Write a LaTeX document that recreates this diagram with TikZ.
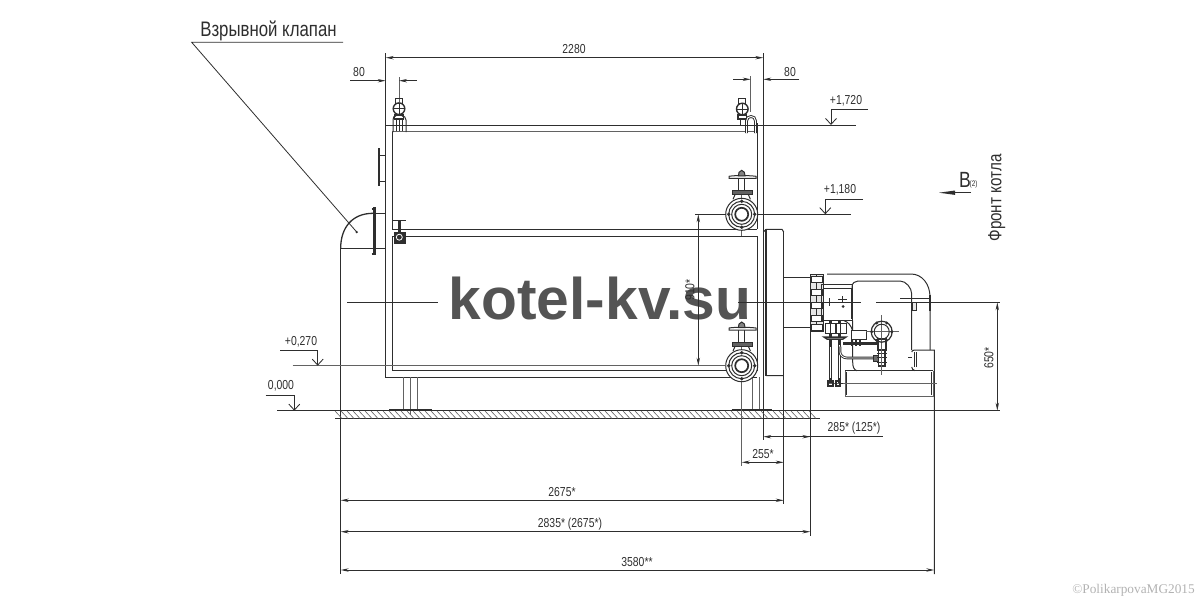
\documentclass[tikz,border=0pt]{standalone}
\usepackage{fontspec}
\setmainfont[FakeStretch=0.8]{Liberation Sans}
\newfontfamily\markfont{Liberation Sans}
\newfontfamily\copyfont{Liberation Serif}
\usetikzlibrary{arrows.meta, positioning}
\definecolor{inkline}{HTML}{2E2E2E}
\tikzset{
    wall/.style={draw=inkline, line width=1pt},
    thinwall/.style={draw=inkline!75, line width=0.8pt},
    heavy/.style={draw=inkline, line width=3pt},
    dimline/.style={draw=inkline, line width=0.85pt, -{Stealth[length=8pt,width=3.4pt]}},
    dimboth/.style={draw=inkline, line width=0.85pt, {Stealth[length=8pt,width=3.4pt]}-{Stealth[length=8pt,width=3.4pt]}},
    levelmark/.style={draw=inkline, line width=0.85pt, -{Straight Barb[length=6pt,width=11pt]}},
    dimtext/.style={text=inkline, font=\fontsize{13}{14}\selectfont, inner sep=0pt}
}
\begin{document}
\begin{tikzpicture}[x=1pt, y=-1pt]

    \useasboundingbox (0,0) rectangle (1200,600); % same size as the sheet, in pixels

    % watermark lies under the drawing
    \node [text=inkline!82, font=\markfont\bfseries\fontsize{58.7}{60}\selectfont, inner sep=0pt] (siteName) at (600,298.5) {kotel-kv.su};

    % boiler shell and the two chambers
    \draw [wall] (385.7,53) -- (385.7,377) -- (757.3,377);
    \draw [wall] (763.3,53) -- (763.3,440);
    \draw [thinwall] (392.3,131.7) -- (757.3,131.7);
    \draw [wall] (392.3,131.7) -- (392.3,229.3) -- (757.3,229.3);
    \draw [wall] (392.3,236) -- (392.3,370.7) -- (757.3,370.7) -- (757.3,236) -- cycle;

    % explosion valve on the rear wall
    \draw [wall, line width=1.3pt] (340.7,248) .. controls (340.7,228) and (352,213.3) .. (373,213.3);
    \draw [wall] (373,213.3) -- (385.7,213.3);
    \draw [wall] (340.7,248) -- (385.7,248);
    \draw [wall] (340.7,248) -- (340.7,574);
    \draw [heavy] (374.3,207) -- (374.3,255);
    \draw [heavy, line width=2pt] (371.5,208.5) -- (376,208.5) (371.5,253.5) -- (376,253.5);
    % bracket above it
    \draw [heavy, line width=2pt] (379,148) -- (379,186);
    \draw [wall] (379,155) -- (385.7,155) (379,181.7) -- (385.7,181.7);

    % legs and floor
    \foreach \legx in {403,410.3,417.7} \draw [thinwall] (\legx,377) -- (\legx,410);
    \draw [thinwall] (410.3,410) -- (410.3,415);
    \foreach \legx in {752,759} \draw [thinwall] (\legx,377) -- (\legx,410);
    \draw [wall, line width=1.3pt] (389,409.7) -- (431.7,409.7);
    \draw [wall, line width=1.3pt] (731.7,409.7) -- (772.3,409.7);
    \draw [wall] (277,410.7) -- (1000,410.7);
    \draw [wall] (335,418.5) -- (820,418.5);
    \foreach \hx in {335,341,...,813} \draw [thinwall, line width=0.6pt] (\hx,411) -- (\hx+7,418.5);

    % top valves and the small gate valve
    \draw [thinwall] (399,77) -- (399,102);
    \draw [wall, line width=1.4pt] (399,108.7) circle (5.8);
    \draw [wall] (393,108.7) -- (405,108.7) (399,102.7) -- (399,114.7);
    \draw [wall] (395.5,98.5) rectangle (402.5,103);
    \draw [wall, line width=1.2pt] (394.5,115) rectangle (403.5,119);
    \draw [wall] (393,132) -- (393,120) .. controls (393,117) and (394,116) .. (396,116);
    \draw [wall] (402,116) .. controls (404,116) and (406,117) .. (406,120) -- (406,132);
    \draw [wall] (396,119) -- (396,131) (399,119) -- (399,131) (402.5,119) -- (402.5,131);
    \draw [thinwall] (750.7,76) -- (750.7,112);
    \draw [wall, line width=1.4pt] (742.3,109) circle (5.8);
    \draw [wall] (736.3,109) -- (748.3,109) (742.3,103) -- (742.3,115);
    \draw [wall] (738.8,98.5) rectangle (745.8,103);
    \draw [wall, line width=1.2pt] (738,115) rectangle (746.6,119);
    \draw [wall] (740,119) -- (740,125) (745,119) -- (745,125);
    \draw [wall, line width=2.8pt] (746.5,133) -- (746.5,121) .. controls (746.5,115) and (755.5,115) .. (755.5,121) -- (755.5,133);
    \draw [white, line width=0.9pt] (746.5,133) -- (746.5,121) .. controls (746.5,115) and (755.5,115) .. (755.5,121) -- (755.5,133);
    \draw [wall] (757.3,123) -- (757.3,229.3);

    \draw [wall, line width=1.2pt] (392.7,220.7) -- (406,220.7);
    \draw [heavy] (399.3,220) -- (399.3,232);
    \draw [fill=inkline, draw=inkline] (393.7,231.7) rectangle (404.7,243.3);
    \draw [white, line width=0.8pt] (399.3,237.2) circle (3);

    % flanged branch valves
    \foreach \vy/\wy in {214.3/177.3, 365.7/329} {
        \draw [thinwall] (741.7,\wy-7) -- (741.7,\vy+22);
        \draw [wall, fill=white] (741.7,\vy) circle (16);
        \draw [wall] (741.7,\vy) circle (13);
        \draw [wall] (741.7,\vy) circle (10);
        \draw [wall, line width=1.7pt, fill=white] (741.7,\vy) circle (6.5);
        \foreach \dx/\dy in {13/0, -13/0, 0/13, 0/-13} \fill [inkline] (741.7+\dx,\vy+\dy) circle (1.9);
        \draw [wall, fill=inkline!75] (732,\wy+13.6) rectangle (752,\wy+17.4);
        \draw [wall, fill=white] (738.7,\wy) rectangle (744.9,\wy+13.6);
        \draw [wall, fill=white] (729,\wy-1) .. controls (735,\wy-2) and (748,\wy-2) .. (756,\wy-1) -- (756,\wy+1) -- (729,\wy+1) -- cycle;
        \draw [wall, fill=inkline!60] (738.4,\wy-1.5) -- (739,\wy-5) -- (741.7,\wy-7) -- (744.4,\wy-5) -- (745,\wy-1.5) -- cycle;
        \draw [wall] (735,\wy+17.4) -- (733,\wy+22) (748.4,\wy+17.4) -- (750.4,\wy+22);
    }
    \draw [thinwall] (741.7,387) -- (741.7,465.7);

    % front plate and burner neck
    \draw [wall, line width=1.3pt] (766,229.3) -- (766,375.7) (783.7,232) -- (783.7,504);
    \draw [wall] (766,375.7) -- (783.7,375.7) (766,229.3) -- (782,229.3) -- (783.7,232);
    \draw [wall] (763.3,232) -- (766,229.3);
    \draw [wall] (783.7,277) -- (810.3,277) (783.7,327) -- (810.3,327);
    \draw [wall] (810.3,277) -- (810.3,536);

    % burner flange and control box
    \draw [wall, fill=inkline!12] (810.3,274.5) rectangle (823,331.5);
    \draw [wall] (816,274.5) -- (816,331.5);
    \foreach \by in {279,292,305,318,327} \draw [wall, fill=white] (811,\by-3) rectangle (822,\by+3);
    \draw [wall] (821,284) rectangle (852.7,320.7);
    \draw [wall] (823,288) -- (851,288) -- (851,319);
    \draw [wall] (827,274) -- (911,274) .. controls (922,274) and (930,284) .. (930,297) -- (930,350);
    \draw [wall] (852,294) -- (852,287) .. controls (852,283) and (855,281) .. (858,281) -- (900,281)
                 .. controls (906,281) and (911.7,288) .. (911.7,294) -- (911.7,350);
    \draw [wall] (852.7,320.7) -- (852.7,362) .. controls (852.7,367) and (854,370) .. (857,370.7);
    \draw [wall] (852.7,331) .. controls (851,325) and (848,322) .. (844,320.7);
    \draw [wall] (900,298.2) -- (930,298.2);
    \draw [wall, fill=inkline!12] (912.3,302) rectangle (916.7,310.7);
    \draw [wall, line width=2pt] (930.2,295) -- (930.2,310.7);

    % air inlet and base frame
    \draw [wall] (911.7,352) .. controls (912,350.5) and (913,350) .. (915,350) -- (934.3,350) -- (934.3,574);
    \draw [wall, line width=1.4pt] (914.3,352) -- (914.3,367);
    \draw [wall] (916.6,352) -- (916.6,367);
    \draw [wall] (908,357) -- (911.7,357);
    \draw [wall] (911.7,367) .. controls (912,369) and (913,370) .. (915,370.7);
    \draw [wall, line width=1.3pt] (845,370.7) -- (933,370.7);
    \draw [thinwall] (845.5,370.7) -- (845.5,396) -- (933,396) -- (933,370.7);
    \draw [wall, line width=1.5pt] (846.5,372) -- (846.5,395) (931.5,372) -- (931.5,395);
    \draw [thinwall] (827,383.3) -- (936.7,383.3);

    % gas train below the box
    \foreach \px in {830.3,839.7} {
        \draw [wall, line width=3pt] (\px,320.7) -- (\px,383);
        \draw [white, line width=0.8pt] (\px,345) -- (\px,378);
    }
    \draw [wall, fill=white] (825.5,323) rectangle (835.5,333);
    \draw [wall, fill=white] (836,323) rectangle (846,333);
    \draw [wall] (830.5,323) -- (830.5,333) (840.5,323) -- (840.5,333);
    \draw [wall, line width=1.5pt, fill=white] (824,337) -- (846,337) -- (843,339) -- (827,339) -- cycle;
    \draw [wall, line width=2.4pt] (830.3,340) -- (830.3,347);
    \draw [wall, line width=2.2pt] (828,381) rectangle (833,386);
    \draw [wall, line width=2.2pt] (836,381) rectangle (840,386);
    \draw [wall, line width=1.6pt] (840,383.5) -- (843,383.5);
    \draw [wall, fill=white] (851.7,330) rectangle (866,339);
    \draw [wall, line width=2.6pt] (843,343.3) -- (883,343.3);
    \draw [wall, line width=1.4pt] (852,340) -- (852,346) (856,340) -- (856,346) (860,340) -- (860,346);
    \draw [wall, line width=2.6pt] (840,346.7) -- (840,352) .. controls (840,355) and (843,358) .. (847,358) -- (873,358);
    \draw [white, line width=0.8pt] (840,346.7) -- (840,352) .. controls (840,355) and (843,358) .. (847,358) -- (873,358);
    \draw [wall, fill=inkline!70] (873,355) rectangle (879,361);
    \draw [wall, line width=1.3pt, fill=white] (878.5,349) rectangle (885,366);
    \draw [wall, line width=1pt] (877,353) -- (886.5,353) (877,357) -- (886.5,357) (877,362) -- (886.5,362);
    \draw [wall, line width=1.4pt, fill=white] (878,339) rectangle (886,350);
    \draw [thinwall] (881.7,315) -- (881.7,375);
    \draw [thinwall] (866,331.7) -- (899,331.7);
    % pressure gauge
    \draw [wall, line width=1.2pt] (881.7,331.7) circle (10.5);
    \draw [wall] (881.7,331.7) circle (7.5);
    \foreach \ga in {0,60,...,300} \fill [inkline] (881.7,331.7) ++(\ga:10) circle (1.6);

    % marks inside the box
    \draw [wall] (824,302.3) -- (835,302.3) (829,298) -- (829,306);
    \draw [wall] (838,299) -- (847,299) (842.5,296) -- (842.5,302);
    \fill [inkline] (843,306.5) circle (1.5);

    % axis of the burner
    \draw [thinwall, draw=inkline] (347,302.5) -- (438,302.5);
    \draw [thinwall, draw=inkline] (738,302.3) -- (861,302.3);
    \draw [thinwall, draw=inkline] (876,302.3) -- (1000,302.3);

    % level marks
    \draw [wall] (385.7,125) -- (855.7,125);
    \draw [thinwall] (292.7,365.7) -- (725.7,365.7);
    \draw [wall] (695,214.3) -- (725.7,214.3) (757.7,214.3) -- (850.7,214.3);
    \draw [levelmark] (868,109.3) -- (831,109.3) -- (831,125);
    \draw [levelmark] (863,199.3) -- (825.3,199.3) -- (825.3,214.3);
    \draw [levelmark] (280,350) -- (317.7,350) -- (317.7,365.7);
    \draw [levelmark] (265.7,395) -- (294.3,395) -- (294.3,410.7);
    \node [dimtext] (level1720) at (846,101) {+1,720};
    \node [dimtext] (level1180) at (840,190) {+1,180};
    \node [dimtext] (level270)  at (301,341.5) {+0,270};
    \node [dimtext] (level0)    at (281,386) {0,000};

    % dimensions
    \draw [dimboth] (385.7,57.7) -- (763.3,57.7);
    \node [dimtext] (dim2280) at (574,49) {2280};
    \draw [dimline] (350,80.7) -- (385.7,80.7);
    \draw [dimline] (416.7,80.7) -- (399,80.7);
    \node [dimtext] (dimLeft80) at (359,72) {80};
    \draw [dimline] (733,79.3) -- (750.7,79.3);
    \draw [dimline] (799.3,79.3) -- (763.3,79.3);
    \node [dimtext] (dimRight80) at (790,72) {80};
    \draw [dimboth] (698.3,214.3) -- (698.3,365.7);
    \node [dimtext, rotate=90] (dim910) at (690,290) {910*};
    \draw [dimboth] (997.3,302.3) -- (997.3,410.7);
    \node [dimtext, rotate=90] (dim650) at (989,358) {650*};
    \draw [dimline] (882.7,436.7) -- (763.3,436.7);
    \draw [dimline] (790,436.7) -- (810.3,436.7);
    \node [dimtext] (dim285) at (854,428.5) {285* (125*)};
    \draw [dimboth] (741.7,462.3) -- (783.7,462.3);
    \node [dimtext] (dim255) at (763,454) {255*};
    \draw [dimboth] (340.7,500.3) -- (783.7,500.3);
    \node [dimtext] (dim2675) at (562,492) {2675*};
    \draw [dimboth] (340.7,531.7) -- (810.3,531.7);
    \node [dimtext] (dim2835) at (570,524) {2835* (2675*)};
    \draw [dimboth] (340.7,570) -- (934.3,570);
    \node [dimtext] (dim3580) at (637,562) {3580**};

    % leader of the valve, view arrow and captions
    \draw [thinwall, draw=inkline] (343,42.3) -- (191.7,42.3) -- (356.7,232);
    \fill [inkline] (356.7,232) circle (1.3);
    \node [text=inkline, font=\fontsize{21}{22}\selectfont, inner sep=0pt] (valveName) at (268.5,30.5) {Взрывной клапан};
    \draw [draw=inkline, line width=0.8pt] (971,192.7) -- (955,192.7);
    \fill [inkline] (939,192.7) -- (955,190.5) -- (955,194.9) -- cycle;
    \node [text=inkline, font=\fontsize{22}{22}\selectfont, inner sep=0pt] (viewB) at (965,180) {В};
    \node [text=inkline, font=\fontsize{8}{8}\selectfont, inner sep=0pt, anchor=south west] (viewIdx) at (969.5,188.5) {(2)};
    \node [text=inkline, font=\fontsize{19}{20}\selectfont, inner sep=0pt, rotate=90] (frontName) at (996.7,198) {Фронт котла};

    % credit
    \node [text=black!30, font=\copyfont\fontsize{13.3}{14}\selectfont, inner sep=0pt] (credit) at (1133.5,590) {©PolikarpovaMG2015};

\end{tikzpicture}
\end{document}
